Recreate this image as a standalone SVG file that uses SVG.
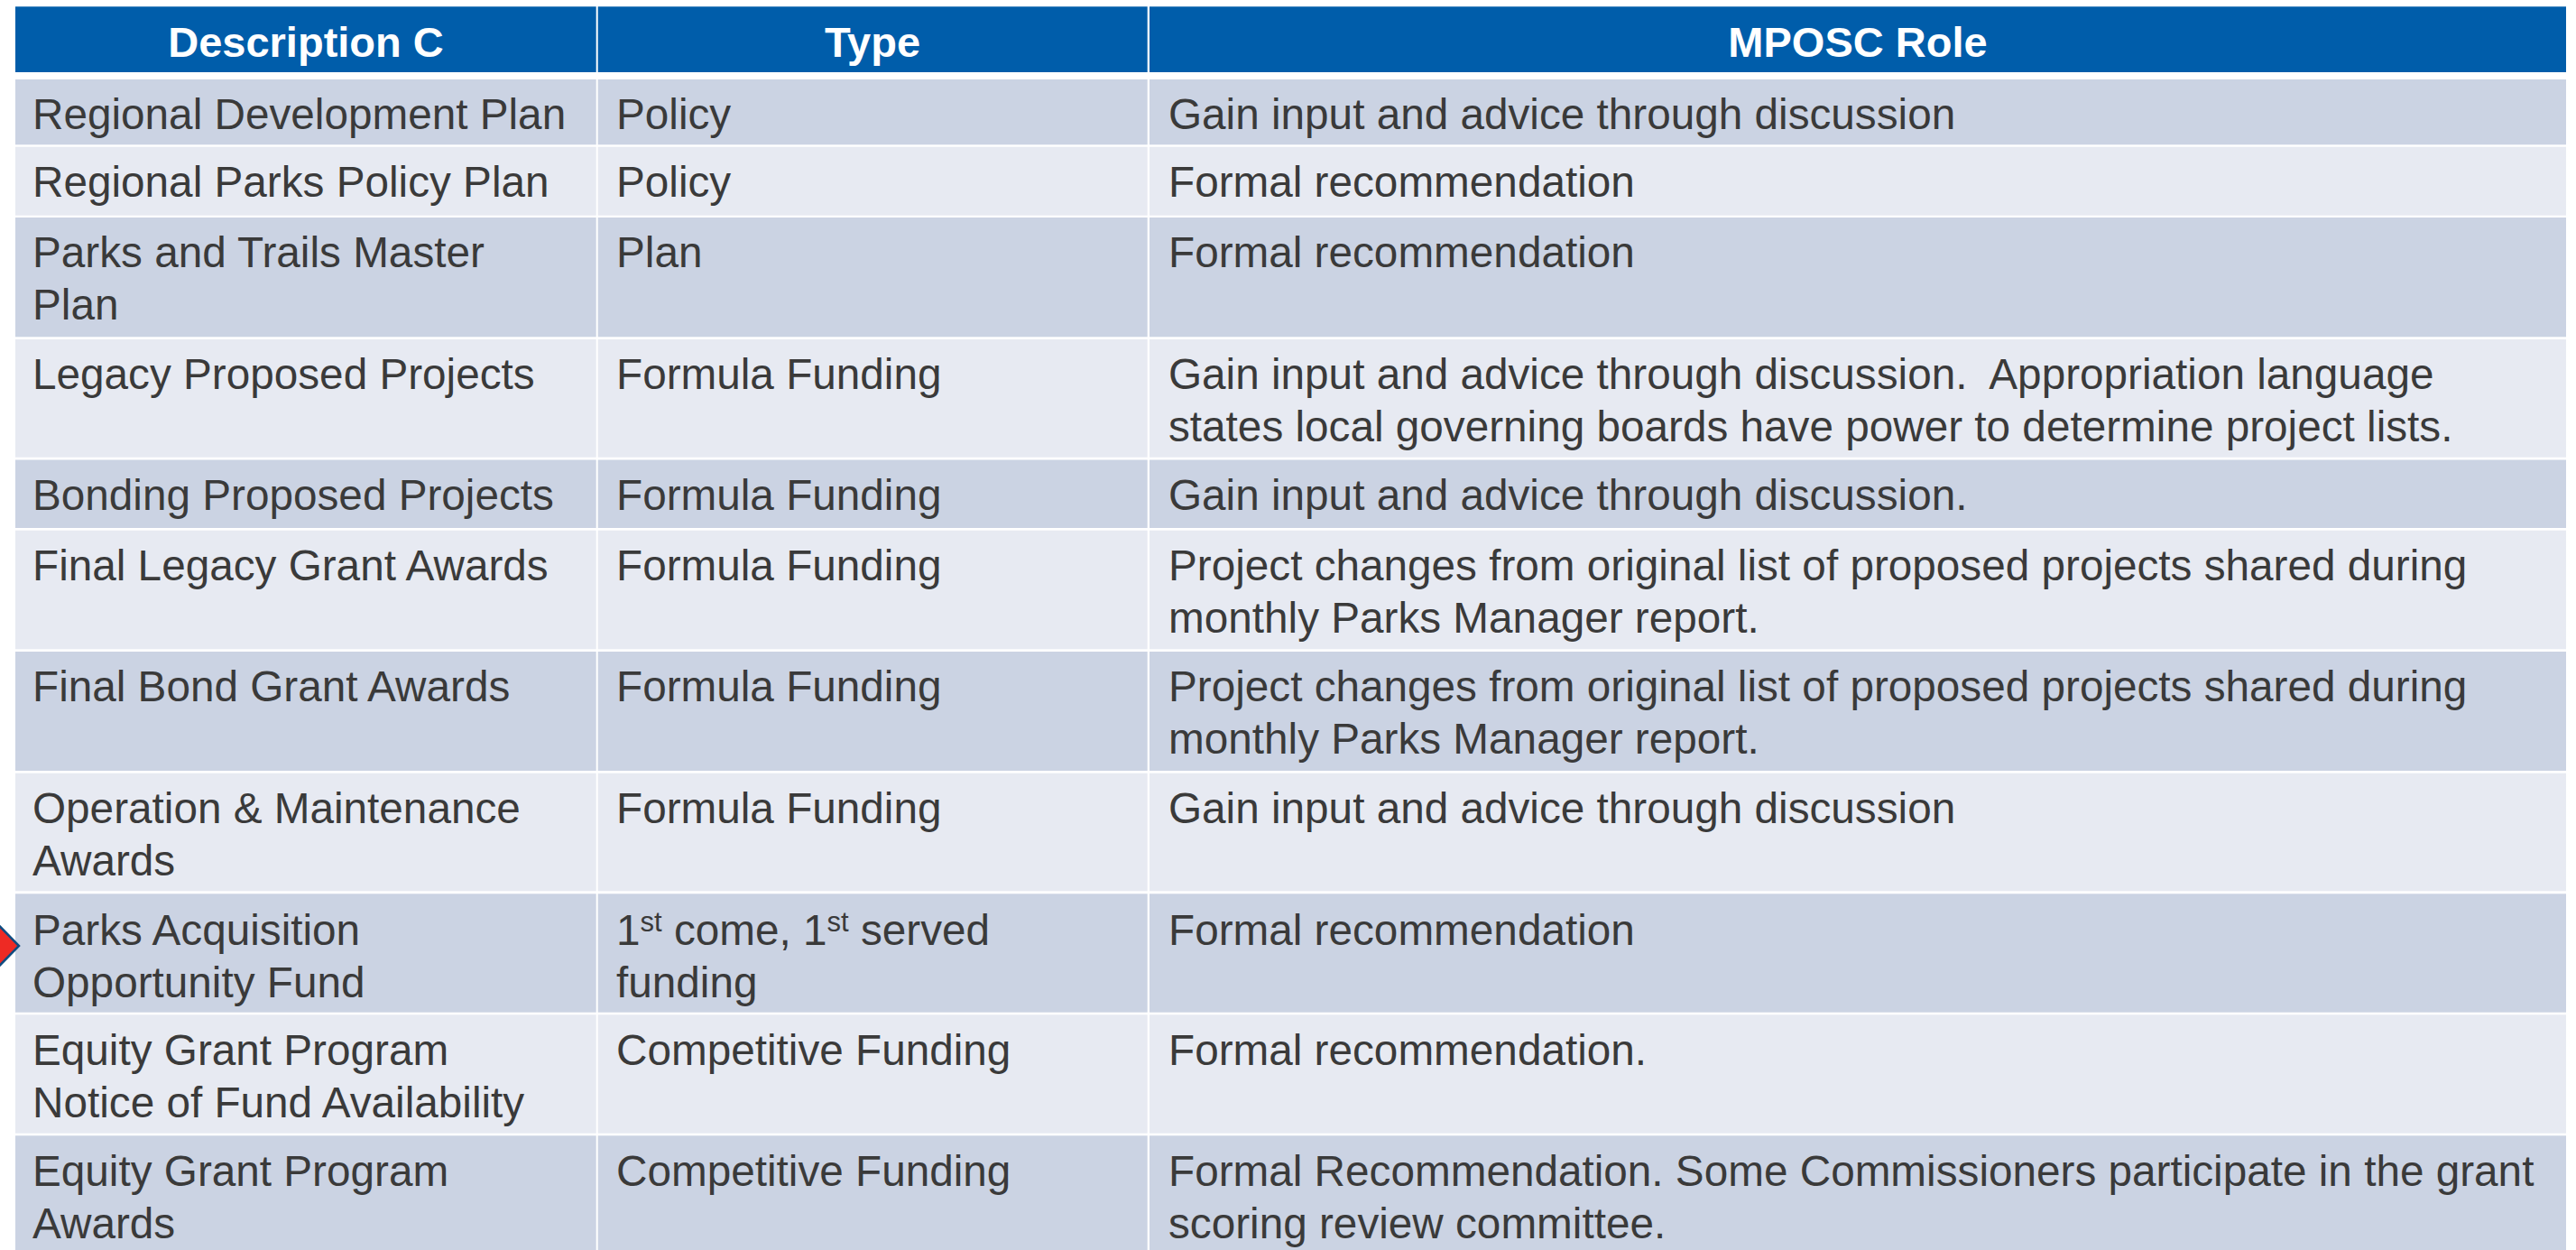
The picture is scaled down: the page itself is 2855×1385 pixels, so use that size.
<svg xmlns="http://www.w3.org/2000/svg" width="2855" height="1385" viewBox="0 0 2855 1385">
<style>
.hd{fill:#005DAA}
.dk{fill:#CBD3E3}
.lt{fill:#E7EAF2}
.t{font-family:"Liberation Sans",Arial,Helvetica,sans-serif;font-size:47.7px;fill:#3A3A3A}
.ht{font-family:"Liberation Sans",Arial,Helvetica,sans-serif;font-size:47px;font-weight:bold;fill:#FFFFFF;text-anchor:middle}
.sup{font-size:31px}
</style>
<rect x="0" y="0" width="2855" height="1385" fill="#FFFFFF"/>
<g id="header">
<rect class="hd" x="17" y="7.3" width="643.7" height="72.7"/>
<rect class="hd" x="662.7" y="7.3" width="609" height="72.7"/>
<rect class="hd" x="1274" y="7.3" width="1570" height="72.7"/>
<text class="ht" x="339" y="63">Description C</text>
<text class="ht" x="967" y="63">Type</text>
<text class="ht" x="2059" y="63">MPOSC Role</text>
</g>
<g id="row1">
<rect class="dk" x="17" y="88" width="643.7" height="72.3"/>
<rect class="dk" x="662.7" y="88" width="609" height="72.3"/>
<rect class="dk" x="1274" y="88" width="1570" height="72.3"/>
<text class="t" x="36" y="143">Regional Development Plan</text>
<text class="t" x="683" y="143">Policy</text>
<text class="t" x="1295" y="143">Gain input and advice through discussion</text>
</g>
<g id="row2">
<rect class="lt" x="17" y="162.7" width="643.7" height="76"/>
<rect class="lt" x="662.7" y="162.7" width="609" height="76"/>
<rect class="lt" x="1274" y="162.7" width="1570" height="76"/>
<text class="t" x="36" y="218">Regional Parks Policy Plan</text>
<text class="t" x="683" y="218">Policy</text>
<text class="t" x="1295" y="218">Formal recommendation</text>
</g>
<g id="row3">
<rect class="dk" x="17" y="241" width="643.7" height="132.3"/>
<rect class="dk" x="662.7" y="241" width="609" height="132.3"/>
<rect class="dk" x="1274" y="241" width="1570" height="132.3"/>
<text class="t" x="36" y="296">Parks and Trails Master<tspan x="36" dy="58">Plan</tspan></text>
<text class="t" x="683" y="296">Plan</text>
<text class="t" x="1295" y="296">Formal recommendation</text>
</g>
<g id="row4">
<rect class="lt" x="17" y="376" width="643.7" height="130.7"/>
<rect class="lt" x="662.7" y="376" width="609" height="130.7"/>
<rect class="lt" x="1274" y="376" width="1570" height="130.7"/>
<text class="t" x="36" y="431">Legacy Proposed Projects</text>
<text class="t" x="683" y="431">Formula Funding</text>
<text class="t" x="1295" y="431">Gain input and advice through discussion.&#160; Appropriation language<tspan x="1295" dy="58">states local governing boards have power to determine project lists.</tspan></text>
</g>
<g id="row5">
<rect class="dk" x="17" y="509.5" width="643.7" height="75.5"/>
<rect class="dk" x="662.7" y="509.5" width="609" height="75.5"/>
<rect class="dk" x="1274" y="509.5" width="1570" height="75.5"/>
<text class="t" x="36" y="564.5">Bonding Proposed Projects</text>
<text class="t" x="683" y="564.5">Formula Funding</text>
<text class="t" x="1295" y="564.5">Gain input and advice through discussion.</text>
</g>
<g id="row6">
<rect class="lt" x="17" y="587.7" width="643.7" height="131.6"/>
<rect class="lt" x="662.7" y="587.7" width="609" height="131.6"/>
<rect class="lt" x="1274" y="587.7" width="1570" height="131.6"/>
<text class="t" x="36" y="643">Final Legacy Grant Awards</text>
<text class="t" x="683" y="643">Formula Funding</text>
<text class="t" x="1295" y="643">Project changes from original list of proposed projects shared during<tspan x="1295" dy="58">monthly Parks Manager report.</tspan></text>
</g>
<g id="row7">
<rect class="dk" x="17" y="722" width="643.7" height="132"/>
<rect class="dk" x="662.7" y="722" width="609" height="132"/>
<rect class="dk" x="1274" y="722" width="1570" height="132"/>
<text class="t" x="36" y="777">Final Bond Grant Awards</text>
<text class="t" x="683" y="777">Formula Funding</text>
<text class="t" x="1295" y="777">Project changes from original list of proposed projects shared during<tspan x="1295" dy="58">monthly Parks Manager report.</tspan></text>
</g>
<g id="row8">
<rect class="lt" x="17" y="856.7" width="643.7" height="130.6"/>
<rect class="lt" x="662.7" y="856.7" width="609" height="130.6"/>
<rect class="lt" x="1274" y="856.7" width="1570" height="130.6"/>
<text class="t" x="36" y="912">Operation &amp; Maintenance<tspan x="36" dy="58">Awards</tspan></text>
<text class="t" x="683" y="912">Formula Funding</text>
<text class="t" x="1295" y="912">Gain input and advice through discussion</text>
</g>
<g id="row9">
<rect class="dk" x="17" y="990.3" width="643.7" height="131.4"/>
<rect class="dk" x="662.7" y="990.3" width="609" height="131.4"/>
<rect class="dk" x="1274" y="990.3" width="1570" height="131.4"/>
<text class="t" x="36" y="1047">Parks Acquisition<tspan x="36" dy="58">Opportunity Fund</tspan></text>
<text class="t" x="683" y="1047">1<tspan class="sup" dy="-15">st</tspan><tspan dy="15"> come, 1</tspan><tspan class="sup" dy="-15">st</tspan><tspan dy="15"> served</tspan><tspan x="683" dy="58">funding</tspan></text>
<text class="t" x="1295" y="1047">Formal recommendation</text>
</g>
<g id="row10">
<rect class="lt" x="17" y="1124.3" width="643.7" height="131.4"/>
<rect class="lt" x="662.7" y="1124.3" width="609" height="131.4"/>
<rect class="lt" x="1274" y="1124.3" width="1570" height="131.4"/>
<text class="t" x="36" y="1180">Equity Grant Program<tspan x="36" dy="57.5">Notice of Fund Availability</tspan></text>
<text class="t" x="683" y="1180">Competitive Funding</text>
<text class="t" x="1295" y="1180">Formal recommendation.</text>
</g>
<g id="row11">
<rect class="dk" x="17" y="1258.3" width="643.7" height="130"/>
<rect class="dk" x="662.7" y="1258.3" width="609" height="130"/>
<rect class="dk" x="1274" y="1258.3" width="1570" height="130"/>
<text class="t" x="36" y="1314">Equity Grant Program<tspan x="36" dy="58">Awards</tspan></text>
<text class="t" x="683" y="1314">Competitive Funding</text>
<text class="t" x="1295" y="1314">Formal Recommendation. Some Commissioners participate in the grant<tspan x="1295" dy="58">scoring review committee.</tspan></text>
</g>
<g id="pointer">
<polygon points="-40,986 21,1048 -40,1110" fill="#EE2A24" stroke="#0F4C81" stroke-width="2.5"/>
</g>
</svg>
